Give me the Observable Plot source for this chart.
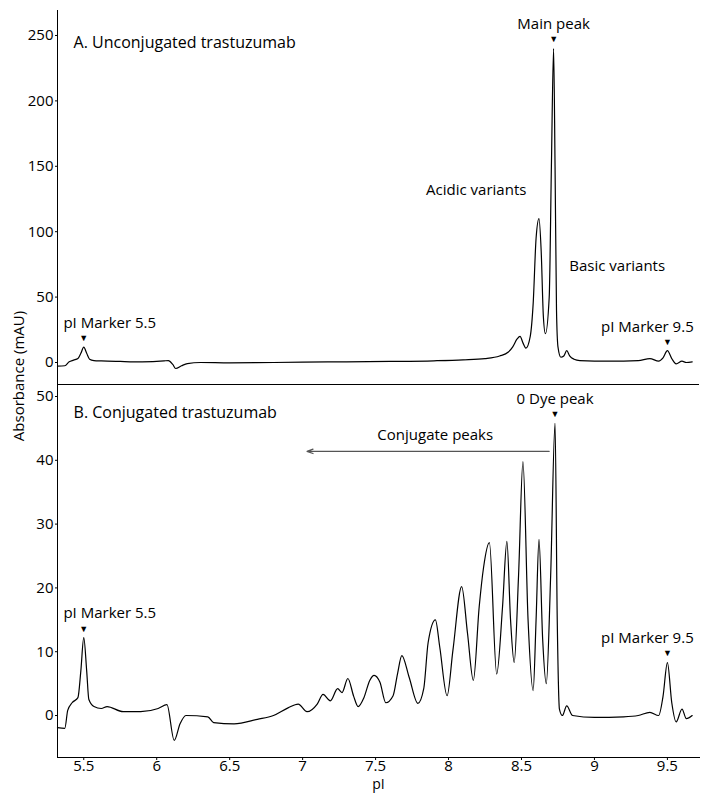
<!DOCTYPE html>
<html><head><meta charset="utf-8">
<script src="https://cdn.jsdelivr.net/npm/d3@7"></script>
<script src="https://cdn.jsdelivr.net/npm/@observablehq/plot@0.6"></script>
<style>
body{margin:0;background:#fff;font-family:"Open Sans",sans-serif;}
#wrap{position:relative;width:701px;height:794px;overflow:hidden;}
#panelA{position:absolute;left:0;top:0;}
#panelB{position:absolute;left:0;top:383px;}
#ylab{position:absolute;left:18px;top:376px;transform:translate(-50%,-50%) rotate(-90deg);font-size:15px;white-space:nowrap;color:#000;}
</style></head><body>
<div id="wrap"><div id="panelA"></div><div id="panelB"></div><div id="ylab">Absorbance (mAU)</div></div>
<script>
// Panel A: unconjugated trastuzumab trace (pI, absorbance mAU)
const pIA  = [5.32,5.37,5.40,5.43,5.46,5.48,5.50,5.52,5.54,5.57,5.62,5.75,5.90,6.05,6.08,6.11,6.13,6.17,6.21,6.30,6.50,6.80,7.00,7.30,7.60,7.90,8.10,8.25,8.35,8.41,8.44,8.47,8.49,8.51,8.53,8.56,8.58,8.60,8.62,8.635,8.65,8.664,8.69,8.705,8.72,8.73,8.74,8.75,8.77,8.79,8.81,8.83,8.86,8.90,9.10,9.30,9.38,9.44,9.47,9.50,9.53,9.56,9.60,9.63,9.67];
const absA = [-2.8,-2.5,0.5,1.8,3,7,11.7,7,2.5,1.5,1.2,0.8,0.5,1.2,1.5,-1.5,-4.6,-2.5,-0.8,0,-0.3,0,0.3,0.5,0.8,1.3,2,3,5,8,12,18,20,15,11,20,45,95,110,85,35,22,50,150,240,150,40,12,4,5,9,5,2.5,1.5,1,1.5,3,1,3.5,9,3,-1,1,0,0.5];
// Panel B: conjugated trastuzumab trace
const pIB  = [5.32,5.37,5.39,5.42,5.46,5.48,5.50,5.52,5.535,5.57,5.62,5.66,5.77,5.89,6.01,6.07,6.12,6.16,6.20,6.35,6.39,6.53,6.69,6.80,6.90,6.97,7.03,7.10,7.14,7.19,7.24,7.27,7.31,7.35,7.38,7.42,7.46,7.49,7.53,7.57,7.62,7.65,7.68,7.73,7.79,7.83,7.86,7.91,7.94,7.99,8.03,8.09,8.13,8.17,8.21,8.24,8.28,8.33,8.37,8.40,8.425,8.45,8.48,8.51,8.545,8.58,8.60,8.62,8.645,8.67,8.70,8.73,8.745,8.76,8.78,8.81,8.85,9.00,9.20,9.30,9.38,9.44,9.47,9.50,9.53,9.56,9.60,9.63,9.67];
const absB = [-1.9,-2.0,0.8,2.0,2.8,7.0,12.2,7.0,2.5,1.4,1.1,1.4,0.6,0.6,1.1,1.7,-3.9,-1.3,0,-0.2,-1.1,-1.3,-0.6,0,1.2,1.8,0.6,1.8,3.3,2.3,4.2,3.6,5.8,3.0,1.4,2.8,5.5,6.3,5.2,2.0,3.1,6.5,9.4,6.0,1.9,4.2,11.4,15.0,10.7,3.1,10.2,20.2,12.9,5.5,17.0,23.2,27.1,6.5,17.0,27.3,15.0,8.3,22.0,39.8,15.0,3.9,15.0,27.6,12.0,5.0,22.0,45.8,15.0,1.0,0,1.5,0,-0.3,-0.2,0,0.5,0,3.0,8.3,2.0,-1.0,1.0,-0.5,0];

const xTicks = [5.5,6,6.5,7,7.5,8,8.5,9,9.5];
const xTickLabels = ["5.5","6","6.5","7","7.5","8","8.5","9","9.5"];
const yTicksA = [0,50,100,150,200,250];
const yTicksB = [0,10,20,30,40,50];

// Peak annotations (label text, peak pI, peak absorbance)
const peakTextA = ["Main peak","pI Marker 5.5","pI Marker 9.5"];
const peakPIA   = [8.72, 5.50, 9.50];
const peakAbsA  = [240, 11.7, 9];
const peakTextB = ["0 Dye peak","pI Marker 5.5","pI Marker 9.5"];
const peakPIB   = [8.73, 5.50, 9.50];
const peakAbsB  = [45.8, 12.2, 8.3];

const rowsA = pIA.map((p,i)=>({pI:p, abs:absA[i]}));
const rowsB = pIB.map((p,i)=>({pI:p, abs:absB[i]}));
const notesA = peakTextA.map((t,i)=>({text:t, pI:peakPIA[i], abs:peakAbsA[i]}));
const notesB = peakTextB.map((t,i)=>({text:t, pI:peakPIB[i], abs:peakAbsB[i]}));
const shift = t => t.includes("5.5") ? 26 : t.includes("9.5") ? -20 : 0;

const FONT = "Open Sans, sans-serif";
const style = {fontFamily: FONT, fontSize: "15px", color: "#000", background: "transparent", overflow: "visible"};
const xDomain = [5.32, 9.72];

function peakNotes(notes) {
  return [
    Plot.text(notes, {x: "pI", y: "abs", text: () => "▼", dy: -9, fontSize: 9, fill: "#000"}),
    Plot.text(notes.filter(d=>shift(d.text)===0), {x: "pI", y: "abs", text: "text", dy: -24, fontSize: 15, fill: "#000"}),
    Plot.text(notes.filter(d=>shift(d.text)>0), {x: "pI", y: "abs", text: "text", dy: -24, dx: 26, fontSize: 15, fill: "#000"}),
    Plot.text(notes.filter(d=>shift(d.text)<0), {x: "pI", y: "abs", text: "text", dy: -24, dx: -20, fontSize: 15, fill: "#000"})
  ];
}

const chartA = Plot.plot({
  width: 701, height: 383,
  marginLeft: 57, marginRight: 2, marginTop: 10, marginBottom: 0,
  style,
  x: {domain: xDomain, axis: null},
  y: {domain: [-16.06, 269.1], axis: null},
  marks: [
    Plot.frame({anchor: "left", stroke: "#000"}),
    Plot.axisY(yTicksA, {tickSize: 2, tickPadding: 2, fontSize: 15, label: null}),
    Plot.line(rowsA, {x: "pI", y: "abs", curve: "monotone-x", stroke: "#000", strokeWidth: 1.2}),
    ...peakNotes(notesA),
    Plot.text(["A. Unconjugated trastuzumab"], {x: 5.43, y: 244.6, text: d => d, textAnchor: "start", fontSize: 16, fill: "#000"}),
    Plot.text(["Acidic variants"], {x: 8.19, y: 131.5, text: d => d, fontSize: 15, fill: "#000"}),
    Plot.text(["Basic variants"], {x: 9.156, y: 73.4, text: d => d, fontSize: 15, fill: "#000"})
  ]
});
document.getElementById("panelA").appendChild(chartA);

const chartB = Plot.plot({
  width: 701, height: 411,
  marginLeft: 57, marginRight: 2, marginTop: 1, marginBottom: 37,
  style,
  x: {domain: xDomain, axis: null},
  y: {domain: [-6.58, 51.88], axis: null},
  marks: [
    Plot.frame({anchor: "left", stroke: "#000"}),
    Plot.frame({anchor: "bottom", stroke: "#000"}),
    Plot.ruleY([51.88], {stroke: "#000"}),
    Plot.axisY(yTicksB, {tickSize: 2, tickPadding: 2, fontSize: 15, label: null}),
    Plot.axisX(xTicks, {tickSize: 3, tickPadding: 0, fontSize: 15, label: null, tickFormat: (d,i) => xTickLabels[i]}),
    Plot.text(["pI"], {frameAnchor: "bottom", text: d => d, dy: 31, fontSize: 14, fill: "#000"}),
    Plot.line(rowsB, {x: "pI", y: "abs", curve: "monotone-x", stroke: "#000", strokeWidth: 1.2}),
    ...peakNotes(notesB),
    Plot.text(["B. Conjugated trastuzumab"], {x: 5.43, y: 47.5, text: d => d, textAnchor: "start", fontSize: 16, fill: "#000"}),
    Plot.text(["Conjugate peaks"], {x: 7.909, y: 43.9, text: d => d, fontSize: 15, fill: "#000"}),
    Plot.arrow([{x1: 8.69, x2: 7.03, y: 41.4}], {x1: "x1", x2: "x2", y1: "y", y2: "y", stroke: "#555", strokeWidth: 1.2, headLength: 8, headAngle: 40})
  ]
});
document.getElementById("panelB").appendChild(chartB);
</script>
</body></html>
